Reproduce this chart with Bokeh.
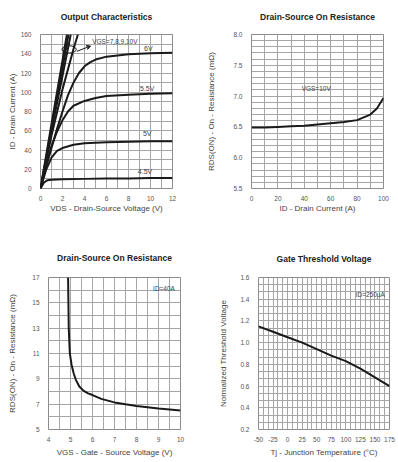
import numpy as np
from bokeh.plotting import figure
from bokeh.layouts import column, row
from bokeh.models import Range1d, FixedTicker, Label, Arrow, VeeHead
from bokeh.embed import file_html
from bokeh.resources import INLINE

# ---------------- data ----------------
# Output characteristics (ID vs VDS for several VGS)
vds_4v5 = [0, 0.3, 0.6, 1, 2, 4, 6, 8, 10, 12]
id_4v5 = [0, 6, 8.5, 9, 9.5, 10, 10.5, 10.5, 11, 11]
vds_5v = [0, 0.5, 1, 1.5, 2, 3, 4, 6, 8, 10, 12]
id_5v = [0, 19, 32, 39, 42, 45.5, 47, 48, 48.5, 49, 49]
vds_5v5 = [0, 0.5, 1, 1.5, 2, 2.5, 3, 4, 5, 6, 8, 10, 12]
id_5v5 = [0, 24, 44, 59, 71, 80, 86, 91, 94, 96, 97.5, 98.5, 99]
vds_6v = [0, 0.5, 1, 1.5, 2, 2.5, 3, 3.5, 4, 4.5, 5, 6, 8, 10, 12]
id_6v = [0, 22, 42, 62, 80, 97, 110, 120, 127, 131, 134, 137, 139.5, 140.5, 141]
vds_7v = [0, 1, 2, 3, 3.4]
id_7v = [0, 55, 103, 145, 160]
vds_8v = [0, 1, 2, 2.75]
id_8v = [0, 60, 117, 160]
vds_9v = [0, 1, 2, 2.55]
id_9v = [0, 63, 125, 160]
vds_10v = [0, 1, 2, 2.4]
id_10v = [0, 67, 133, 160]
oc_xticks = [0, 2, 4, 6, 8, 10, 12]
oc_xlabels = ["0", "2", "4", "6", "8", "10", "12"]
oc_yticks = [0, 20, 40, 60, 80, 100, 120, 140, 160]
oc_ylabels = ["0", "20", "40", "60", "80", "100", "120", "140", "160"]

# On resistance vs drain current (VGS = 10V)
id_r = [0, 10, 20, 30, 40, 50, 60, 70, 80, 90, 95, 100]
rds_id = [6.49, 6.49, 6.5, 6.51, 6.52, 6.54, 6.56, 6.58, 6.61, 6.7, 6.8, 6.97]
r1_xticks = [0, 20, 40, 60, 80, 100]
r1_xlabels = ["0", "20", "40", "60", "80", "100"]
r1_yticks = [5.5, 6.0, 6.5, 7.0, 7.5, 8.0]
r1_ylabels = ["5.5", "6.0", "6.5", "7.0", "7.5", "8.0"]

# On resistance vs gate voltage (ID = 40A)
vgs_r = [4.89, 4.92, 4.97, 5.05, 5.15, 5.25, 5.4, 5.6, 5.8, 6.0, 6.4, 7.0, 7.5, 8.0, 9.0, 10.0]
rds_vgs = [17, 13, 11, 10.1, 9.4, 8.9, 8.4, 8.05, 7.85, 7.72, 7.42, 7.14, 6.99, 6.86, 6.65, 6.5]
r2_xticks = [4, 5, 6, 7, 8, 9, 10]
r2_xlabels = ["4", "5", "6", "7", "8", "9", "10"]
r2_yticks = [5, 7, 9, 11, 13, 15, 17]
r2_ylabels = ["5", "7", "9", "11", "13", "15", "17"]

# Normalized threshold voltage vs junction temperature
tj = [-50, -25, 0, 25, 50, 75, 100, 125, 150, 175]
vth = [1.15, 1.10, 1.05, 1.0, 0.94, 0.88, 0.83, 0.76, 0.68, 0.60]
gt_xticks = [-50, -25, 0, 25, 50, 75, 100, 125, 150, 175]
gt_xlabels = ["-50", "-25", "0", "25", "50", "75", "100", "125", "150", "175"]
gt_yticks = [0.2, 0.4, 0.6, 0.8, 1.0, 1.2, 1.4, 1.6]
gt_ylabels = ["0.2", "0.4", "0.6", "0.8", "1.0", "1.2", "1.4", "1.6"]

FONT = "Liberation Sans"
GRID = "#a6a6a6"
LINE = "#1a1a1a"


def minors(ticks, n):
    t = np.asarray(ticks, dtype=float)
    out = []
    for a, b in zip(t[:-1], t[1:]):
        out.extend(list(np.linspace(a, b, n + 1)[1:-1]))
    return [float(v) for v in out]


def make_fig(title, w, h, xr, yr, xt, yt, borders, title_standoff,
             xlabel, ylabel, xl_so, yl_so):
    lb, rb, tb, bb = borders
    p = figure(width=w, height=h, x_range=Range1d(*xr), y_range=Range1d(*yr),
               output_backend="svg", toolbar_location=None,
               min_border_left=lb, min_border_right=rb,
               min_border_top=tb, min_border_bottom=bb)
    p.title.text = title
    p.title.align = "center"
    p.title.vertical_align = "top"
    p.title.text_font = FONT
    p.title.text_font_size = "8.5px"
    p.title.text_font_style = "bold"
    p.title.text_color = "#222222"
    p.title.standoff = title_standoff
    xticks, xlabels, xn = xt
    yticks, ylabels, yn = yt
    xtick = FixedTicker(ticks=xticks, minor_ticks=minors(xticks, xn))
    ytick = FixedTicker(ticks=yticks, minor_ticks=minors(yticks, yn))
    p.xaxis.ticker = xtick
    p.yaxis.ticker = ytick
    p.xgrid.ticker = xtick
    p.ygrid.ticker = ytick
    p.xaxis.major_label_overrides = dict(zip(xticks, xlabels))
    p.yaxis.major_label_overrides = dict(zip(yticks, ylabels))
    for g in (p.xgrid, p.ygrid):
        g.grid_line_color = GRID
        g.grid_line_width = 1
        g.minor_grid_line_color = GRID
        g.minor_grid_line_width = 1
    for ax in (p.xaxis, p.yaxis):
        ax.major_tick_line_color = None
        ax.minor_tick_line_color = None
        ax.axis_line_color = None
        ax.major_label_text_font = FONT
        ax.major_label_text_font_size = "6.5px"
        ax.major_label_text_color = "#555555"
        ax.axis_label_text_font = FONT
        ax.axis_label_text_font_size = "8px"
        ax.axis_label_text_font_style = "normal"
        ax.axis_label_text_color = "#444444"
    p.yaxis.major_label_standoff = 3
    p.xaxis.major_label_standoff = 1
    p.xaxis.axis_label = xlabel
    p.yaxis.axis_label = ylabel
    p.xaxis.axis_label_standoff = xl_so
    p.yaxis.axis_label_standoff = yl_so
    p.outline_line_color = "#8c8c8c"
    p.outline_line_width = 1
    p.background_fill_color = "white"
    p.border_fill_color = "white"
    return p


def lab(p, x, y, text, size="6.5px", align="center"):
    p.add_layout(Label(x=x, y=y, text=text, text_font=FONT, text_font_size=size,
                       text_color="#444444", text_align=align, text_baseline="middle"))


# ---------------- Output Characteristics ----------------
p1 = make_fig("Output Characteristics", 200, 230, (0, 12), (0, 160),
              (oc_xticks, oc_xlabels, 2), (oc_yticks, oc_ylabels, 2),
              (40, 28, 33, 41), 22,
              "VDS - Drain-Source Voltage (V)", "ID - Drain Current (A)", 0, 1)
for xs, ys in [(vds_4v5, id_4v5), (vds_5v, id_5v), (vds_5v5, id_5v5), (vds_6v, id_6v),
               (vds_7v, id_7v), (vds_8v, id_8v), (vds_9v, id_9v), (vds_10v, id_10v)]:
    p1.line(xs, ys, line_color=LINE, line_width=2)
p1.ellipse(x=[2.6], y=[144.5], width=1.3, height=7.5, fill_color=None, fill_alpha=0,
           line_color=LINE, line_width=1)
p1.add_layout(Arrow(end=VeeHead(size=4, line_color=LINE, fill_color=LINE, line_width=1),
                    x_start=3.3, y_start=142.5, x_end=4.55, y_end=148,
                    line_color=LINE, line_width=1))
lab(p1, 4.7, 152.5, "VGS=7,8,9,10V", "6.5px", "left")
lab(p1, 9.8, 145, "6V", "7px")
lab(p1, 9.7, 104, "5.5V", "7px")
lab(p1, 9.7, 57, "5V", "7px")
lab(p1, 9.5, 18, "4.5V", "7px")

# ---------------- On resistance vs ID ----------------
p2 = make_fig("Drain-Source On Resistance", 198, 230, (0, 100), (5.5, 8.0),
              (r1_xticks, r1_xlabels, 2), (r1_yticks, r1_ylabels, 5),
              (51, 15, 33, 42), 22,
              "ID - Drain Current (A)", "RDS(ON) - On - Resistance (mΩ)", 0, 14)
p2.line(id_r, rds_id, line_color=LINE, line_width=2)
lab(p2, 49, 7.12, "VGS=10V", "6.5px")

# ---------------- On resistance vs VGS ----------------
p3 = make_fig("Drain-Source On Resistance", 200, 232, (4, 10), (5, 17),
              (r2_xticks, r2_xlabels, 2), (r2_yticks, r2_ylabels, 2),
              (48, 20, 47, 33), 26,
              "VGS - Gate - Source Voltage (V)", "RDS(ON) - On - Resistance (mΩ)", 3, 12)
p3.line(vgs_r, rds_vgs, line_color=LINE, line_width=2)
lab(p3, 9.25, 16.1, "ID=40A", "6.5px")

# ---------------- Gate threshold voltage ----------------
p4 = make_fig("Gate Threshold Voltage", 198, 232, (-50, 175), (0.2, 1.6),
              (gt_xticks, gt_xlabels, 3), (gt_yticks, gt_ylabels, 3),
              (58, 9, 44, 33), 23,
              "Tj - Junction Temperature (°C)", "Normalized Threshold Voltage", 3, 9)
p4.line(tj, vth, line_color=LINE, line_width=2)
lab(p4, 142, 1.44, "ID=250µA", "6.5px")

layout = column(row(p1, p2), row(p3, p4))
open("out.html", "w").write(file_html(layout, INLINE))
